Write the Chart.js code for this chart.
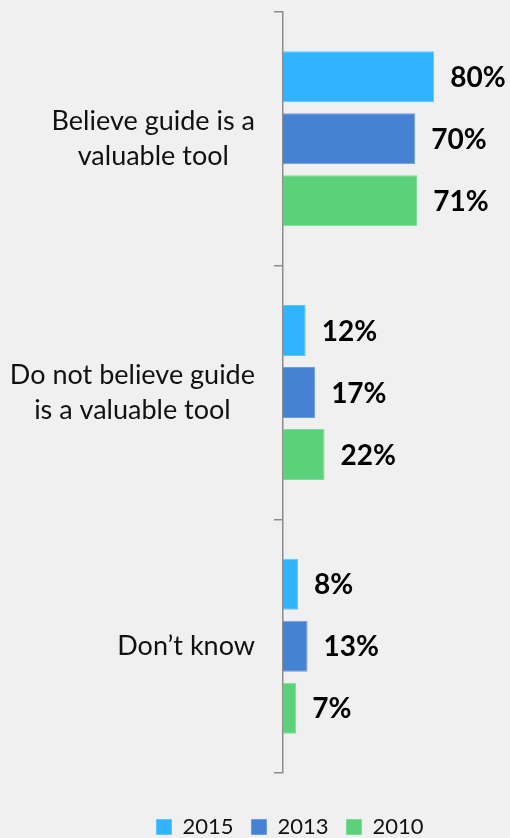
<!DOCTYPE html>
<html>
<head>
<meta charset="utf-8">
<script src="https://cdn.jsdelivr.net/npm/chart.js@4/dist/chart.umd.min.js"></script>
<style>
  html, body { margin: 0; padding: 0; background: #f0f0f0; }
  #wrap { width: 510px; height: 838px; position: relative; }
</style>
</head>
<body>
<div id="wrap"><canvas id="chart"></canvas></div>
<script>
// Survey answers, one group per answer, one bar per survey year
const categories = [
  ["Believe guide is a", "valuable tool"],
  ["Do not believe guide", "is a valuable tool"],
  ["Don\u2019t know"]
];
const seriesNames = ["2015", "2013", "2010"];
const values2015 = [80, 12, 8];
const values2013 = [70, 17, 13];
const values2010 = [71, 22, 7];

const barColors = ["#31b4ff", "#4682d3", "#5bd27a"];
const barEdges = ["#5cc4ff", "#6c9ddd", "#7cdb94"];
const FONT = "Lato, 'Open Sans', sans-serif";

const PAD = { top: 12, right: 38, left: 108, bottom: -10 };
const PLOT_LEFT = 283;
const PLOT_BOTTOM = 773;

// Multi-line category names: each block right-aligned beside the axis, lines centred within the block
const categoryLabels = {
  id: "categoryLabels",
  afterDraw(chart) {
    const y = chart.scales.y;
    const ctx = chart.ctx;
    const lineH = 35;
    const rightEdge = y.right - 28;
    ctx.save();
    ctx.font = "27px " + FONT;
    ctx.fillStyle = "#111111";
    ctx.textAlign = "center";
    ctx.textBaseline = "middle";
    chart.data.labels.forEach((lab, i) => {
      const lines = Array.isArray(lab) ? lab : [lab];
      const widest = Math.max(...lines.map(l => ctx.measureText(l).width));
      const cx = rightEdge - widest / 2;
      const cy = y.getPixelForValue(i);
      const top = cy - (lines.length - 1) * lineH / 2;
      lines.forEach((l, k) => ctx.fillText(l, cx, top + k * lineH));
    });
    ctx.restore();
  }
};

// Percent labels just past the end of each bar
const valueLabels = {
  id: "valueLabels",
  afterDatasetsDraw(chart) {
    const ctx = chart.ctx;
    ctx.save();
    ctx.font = "bold 28px " + FONT;
    ctx.fillStyle = "#000000";
    ctx.textAlign = "left";
    ctx.textBaseline = "middle";
    chart.data.datasets.forEach((ds, di) => {
      const meta = chart.getDatasetMeta(di);
      meta.data.forEach((bar, i) => {
        ctx.fillText(ds.data[i] + "%", bar.x + 16, bar.y + 1);
      });
    });
    ctx.restore();
  }
};

const seriesValues = [values2015, values2013, values2010];

new Chart(document.getElementById("chart"), {
  type: "bar",
  data: {
    labels: categories,
    datasets: seriesNames.map((name, i) => ({
      label: name,
      data: seriesValues[i],
      backgroundColor: barColors[i],
      borderColor: barEdges[i],
      borderWidth: 1,
      barPercentage: 0.823,
      categoryPercentage: 0.733
    }))
  },
  options: {
    indexAxis: "y",
    responsive: true,
    maintainAspectRatio: false,
    animation: false,
    layout: { padding: PAD },
    scales: {
      x: {
        min: 0,
        max: 100,
        display: true,
        grid: { display: false },
        border: { display: false },
        ticks: { display: false },
        afterFit(s) { s.height = (s.chart.height - PAD.bottom) - PLOT_BOTTOM - s.chart.legend.height; }
      },
      y: {
        grid: {
          display: true,
          offset: true,
          drawOnChartArea: false,
          drawTicks: true,
          tickLength: 9,
          color: "#8c8c8c",
          lineWidth: 1.5
        },
        border: { display: true, color: "#8c8c8c", width: 1.5 },
        ticks: { display: false },
        afterFit(s) { s.width = PLOT_LEFT - PAD.left; }
      }
    },
    plugins: {
      legend: {
        position: "bottom",
        labels: {
          boxWidth: 15,
          boxHeight: 15,
          padding: 18,
          color: "#111111",
          font: { family: FONT, size: 22 }
        }
      },
      tooltip: { enabled: false }
    }
  },
  plugins: [categoryLabels, valueLabels]
});
</script>
</body>
</html>
